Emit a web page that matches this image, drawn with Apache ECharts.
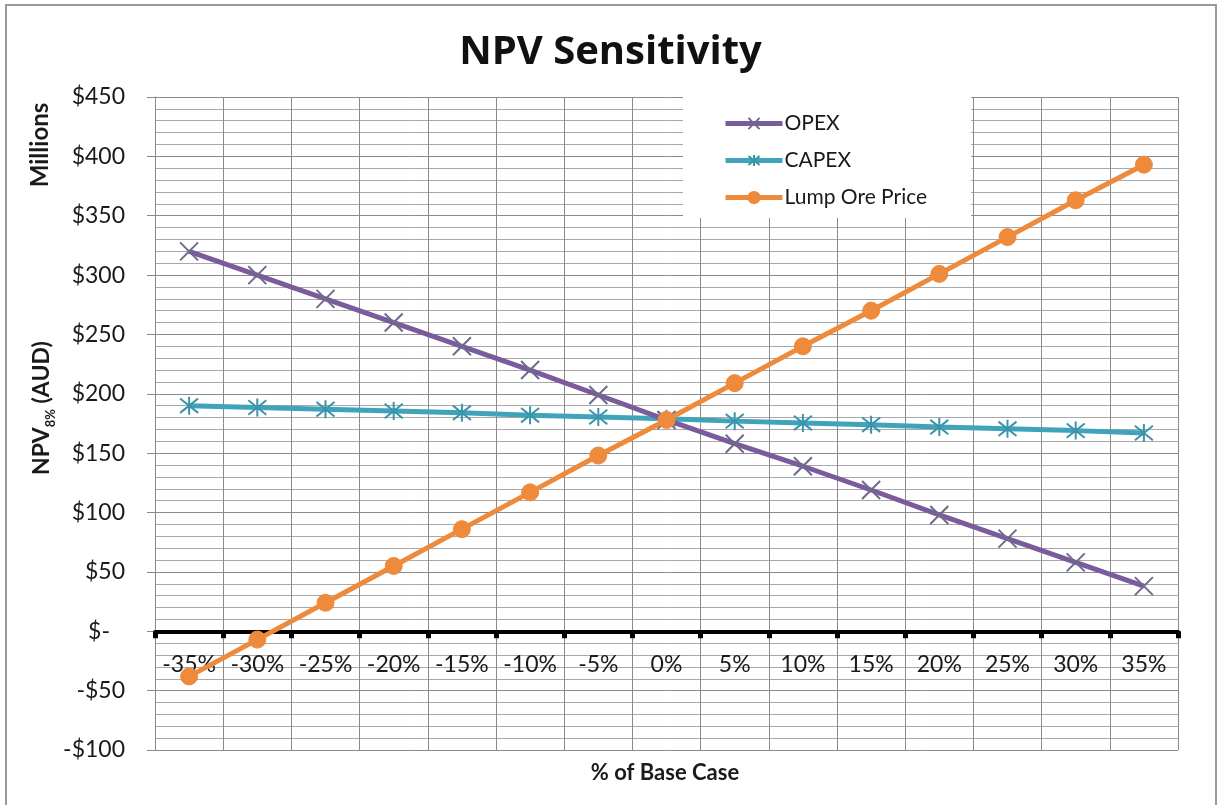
<!DOCTYPE html>
<html>
<head>
<meta charset="utf-8">
<script src="https://cdn.jsdelivr.net/npm/echarts@6/dist/echarts.min.js"></script>
<style>
html,body{margin:0;padding:0;background:#fff;}
#main{width:1221px;height:805px;}
</style>
</head>
<body>
<div id="main"></div>
<script>
const categories = ['-35%','-30%','-25%','-20%','-15%','-10%','-5%','0%','5%','10%','15%','20%','25%','30%','35%'];
const opex = [320, 300, 280, 260, 240, 220, 199, 178, 158, 139, 119, 98, 78, 58, 38];
const capex = [190, 188.5, 187, 185.5, 184, 182, 180.5, 179, 177, 175.5, 174, 172, 170.5, 169, 167];
const lumpOre = [-38, -7, 24, 55, 86, 117, 148, 178, 209, 240, 270, 301, 332, 363, 393];
const yTicks = { min: -100, max: 450, step: 50 };

const FONT = 'Lato';
const GRID = { left: 155, right: 43, top: 97, bottom: 55 };
const plotH = 805 - GRID.top - GRID.bottom;
// shift category axis up to the zero line
const zeroOffset = -plotH * (0 - yTicks.min) / (yTicks.max - yTicks.min);

const chart = echarts.init(document.getElementById('main'));

const option = {
  backgroundColor: '#fff',
  animation: false,
  textStyle: { fontFamily: FONT, color: '#1a1a1a' },
  title: {
    text: 'NPV Sensitivity',
    left: 'center',
    top: 28,
    textStyle: { fontFamily: 'Open Sans', fontSize: 40, fontWeight: 'bold', color: '#111' }
  },
  legend: {
    orient: 'vertical',
    left: 683,
    top: 97,
    padding: [16, 44, 10, 40],
    backgroundColor: '#fff',
    itemWidth: 57,
    itemHeight: 14,
    itemGap: 16,
    lineStyle: { width: 5 },
    textStyle: { fontFamily: FONT, fontSize: 21, color: '#1a1a1a', padding: [0,0,0,-3] },
    data: ['OPEX', 'CAPEX', 'Lump Ore Price']
  },
  grid: { left: GRID.left, right: GRID.right, top: GRID.top, bottom: GRID.bottom, containLabel: false },
  xAxis: {
    type: 'category',
    data: categories,
    boundaryGap: true,
    offset: zeroOffset,
    axisLine: { onZero: false, lineStyle: { color: '#000', width: 4 } },
    axisTick: { show: true, interval: 0, length: 7, lineStyle: { color: '#000', width: 5 } },
    axisLabel: { interval: 0, hideOverlap: false, fontFamily: FONT, fontSize: 23, color: '#1a1a1a', margin: 22 },
    splitLine: { show: true, interval: 0, lineStyle: { color: '#8a8a8a', width: 1 } }
  },
  yAxis: {
    type: 'value',
    min: yTicks.min,
    max: yTicks.max,
    interval: yTicks.step,
    axisLine: { show: true, lineStyle: { color: '#8a8a8a', width: 1 } },
    axisTick: { show: true, length: 8, lineStyle: { color: '#8a8a8a' } },
    minorTick: { show: false, splitNumber: 5 },
    axisLabel: {
      fontFamily: FONT, fontSize: 23, color: '#1a1a1a', margin: 30,
      formatter: function (v) {
        if (v === 0) return '{z|$-}';
        return v < 0 ? '-$' + (-v) : '$' + v;
      },
      rich: { z: { fontFamily: FONT, fontSize: 23, color: '#1a1a1a', padding: [0, 15, 0, 0] } }
    },
    splitLine: { show: true, lineStyle: { color: '#8a8a8a', width: 1 } },
    minorSplitLine: { show: true, lineStyle: { color: '#a8a8a8', width: 1 } }
  },
  graphic: [
    { type: 'rect', shape: { x: 6, y: 5, width: 1210, height: 830 }, style: { fill: 'none', stroke: '#9a9a9a', lineWidth: 2 }, silent: true, z: -10 },
    { type: 'text', x: 665, y: 773, style: { text: '% of Base Case', font: 'bold 22px Lato', fill: '#1a1a1a', textAlign: 'center', textVerticalAlign: 'middle' } },
    { type: 'text', x: 40, y: 145, rotation: Math.PI / 2, style: { text: 'Millions', font: 'bold 24px Lato', fill: '#1a1a1a', textAlign: 'center', textVerticalAlign: 'middle' } },
    { type: 'text', x: 42, y: 408, rotation: Math.PI / 2,
      style: {
        text: '{a|NPV}{b|8%}{a| (AUD)}',
        textAlign: 'center', textVerticalAlign: 'middle',
        rich: {
          a: { fontFamily: FONT, fontSize: 23, fontWeight: 'bold', fill: '#1a1a1a', verticalAlign: 'bottom' },
          b: { fontFamily: FONT, fontSize: 13, fontWeight: 'bold', fill: '#1a1a1a', verticalAlign: 'bottom', padding: [0, 0, -4, 0] }
        }
      } }
  ],
  series: [
    {
      name: 'OPEX', type: 'line', data: opex,
      symbol: 'path://M0,0L10,10M10,0L0,10', symbolSize: 18,
      lineStyle: { color: '#7a5c9c', width: 5 },
      itemStyle: { color: '#7a5c9c', borderColor: '#6f6a8c', borderWidth: 2 },
      z: 3
    },
    {
      name: 'CAPEX', type: 'line', data: capex,
      symbol: 'path://M1,1L9,9M9,1L1,9M5,0L5,10', symbolSize: 18,
      lineStyle: { color: '#3fa3ba', width: 5 },
      itemStyle: { color: '#3fa3ba', borderColor: '#3a94aa', borderWidth: 2 },
      z: 2
    },
    {
      name: 'Lump Ore Price', type: 'line', data: lumpOre,
      symbol: 'circle', symbolSize: 17,
      lineStyle: { color: '#ee8a3c', width: 5 },
      itemStyle: { color: '#ee8a3c', borderColor: '#ee8a3c', borderWidth: 1 },
      z: 4
    }
  ]
};
chart.setOption(option);
</script>
</body>
</html>
